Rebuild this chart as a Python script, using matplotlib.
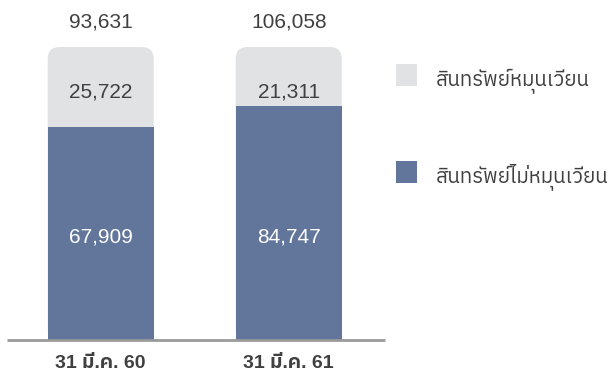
import matplotlib
matplotlib.use("Agg")
import matplotlib.pyplot as plt
from matplotlib import font_manager
from matplotlib.ft2font import FT2Font
from matplotlib.patches import FancyBboxPatch, Rectangle

# ---------------- data ----------------
categories = ["31 มี.ค. 60", "31 มี.ค. 61"]
non_current = [67909, 84747]   # สินทรัพย์ไม่หมุนเวียน
current = [25722, 21311]       # สินทรัพย์หมุนเวียน
totals = [93631, 106058]
legend_labels = ["สินทรัพย์หมุนเวียน", "สินทรัพย์ไม่หมุนเวียน"]

# ---------------- fonts ----------------
def find_thai_family():
    cands = []
    for f in font_manager.fontManager.ttflist:
        try:
            cm = FT2Font(f.fname).get_charmap()
        except Exception:
            continue
        if 0x0E2A in cm and 0x0E35 in cm:
            name = f.name
            score = 0
            if "Sans" in name:
                score += 2
            if "Looped" not in name:
                score += 1
            if "UI" in name:
                score -= 1
            cands.append((score, name))
    if not cands:
        return None
    cands.sort(key=lambda s: -s[0])
    return cands[0][1]

thai = find_thai_family()
fams = ["Liberation Sans", "DejaVu Sans"]
if thai:
    fams = ["Liberation Sans", thai, "DejaVu Sans"]
plt.rcParams["font.family"] = fams

DARK = "#62759b"
LIGHT = "#e1e2e4"
TXT = "#404040"

W, H = 611, 383
fig = plt.figure(figsize=(W / 100, H / 100), dpi=100)
ax = fig.add_axes([0, 0, 1, 1])
ax.set_axis_off()

# pixel-based mapping: bar centres at 100.7 and 288.8 px, baseline at y=340 px (from top), 100% = 293 px
x0, dx = 100.7, 188.0
base_from_bottom = H - 340
full = 293.0
ax.set_xlim(-x0 / dx, (W - x0) / dx)
ax.set_ylim(-base_from_bottom / full * 100, (H - base_from_bottom) / full * 100)

xs = list(range(len(categories)))
bar_w = 106 / dx
dark_pct = [n / t * 100 for n, t in zip(non_current, totals)]
light_pct = [c / t * 100 for c, t in zip(current, totals)]

# light (current) segment with rounded top corners, drawn full height and covered below by dark bar
rx = 12 / dx
ry = 12 / full * 100
for x, dp, lp in zip(xs, dark_pct, light_pct):
    p = FancyBboxPatch((x - bar_w / 2, 0), bar_w, dp + lp,
                       boxstyle=f"round,pad=0,rounding_size={rx}",
                       mutation_aspect=ry / rx,
                       facecolor=LIGHT, edgecolor="none", zorder=1)
    ax.add_patch(p)

ax.bar(xs, dark_pct, width=bar_w, color=DARK, zorder=2)

# baseline
ax.plot([(7 - x0) / dx, (385 - x0) / dx], [0, 0], color="#9a9a9a", lw=2.0,
        solid_capstyle="butt", zorder=3)

def ypix(y_top):
    return (H - y_top - base_from_bottom) / full * 100

for x, n, c, t, cat in zip(xs, non_current, current, totals, categories):
    ax.text(x, ypix(27.3), f"{t:,}", ha="center", va="baseline", fontsize=15, color=TXT)
    ax.text(x, ypix(97.3), f"{c:,}", ha="center", va="baseline", fontsize=15, color=TXT, zorder=4)
    ax.text(x, ypix(242.7), f"{n:,}", ha="center", va="baseline", fontsize=15, color="white", zorder=4)
    ax.text(x, ypix(368.3), cat, ha="center", va="baseline", fontsize=14, color=TXT,
            fontweight="bold")

# legend (manual, in figure pixels)
for (ytop, col, lab) in [(64, LIGHT, legend_labels[0]), (161, DARK, legend_labels[1])]:
    fig.patches.append(Rectangle((396 / W, 1 - (ytop + 21.5) / H), 21 / W, 21.5 / H,
                                 transform=fig.transFigure, facecolor=col, edgecolor="none"))
    fig.text(436 / W, 1 - (ytop + 21) / H, lab, ha="left", va="baseline", fontsize=14.8, color=TXT)

fig.savefig("out.png", dpi=100)
